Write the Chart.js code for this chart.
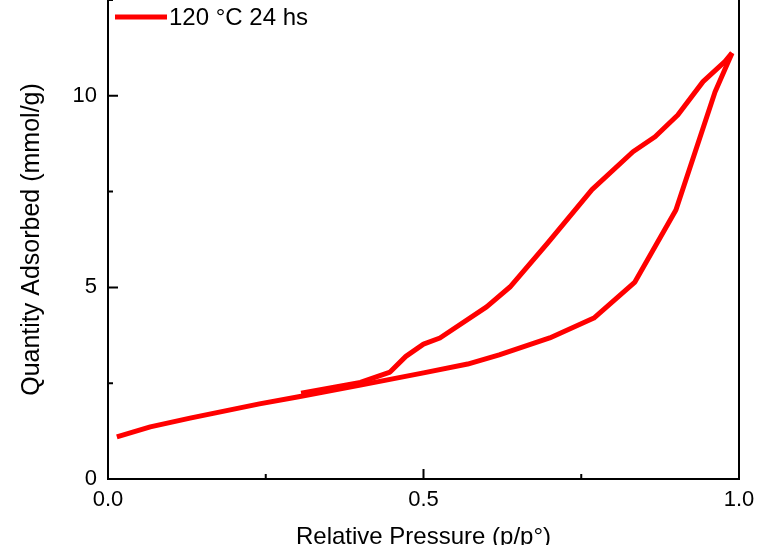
<!DOCTYPE html>
<html>
<head>
<meta charset="utf-8">
<script src="https://cdn.jsdelivr.net/npm/chart.js@4/dist/chart.umd.min.js"></script>
<style>
  html, body { margin: 0; padding: 0; background: #fff; }
  canvas { display: block; }
</style>
</head>
<body>
<canvas id="c" width="784" height="545"></canvas>
<script>
// isotherm data (p/p° vs mmol/g)
const seriesLabel = '120 °C 24 hs';
const adsP = [0.014, 0.067, 0.13, 0.24, 0.30, 0.40, 0.50, 0.57, 0.62, 0.70, 0.77, 0.835, 0.90, 0.962, 0.989];
const adsQ = [1.10, 1.36, 1.59, 1.96, 2.14, 2.45, 2.77, 3.00, 3.24, 3.68, 4.20, 5.14, 7.02, 10.1, 11.12];
const desP = [0.989, 0.978, 0.943, 0.903, 0.867, 0.832, 0.767, 0.697, 0.637, 0.60, 0.526, 0.50, 0.472, 0.447, 0.40, 0.306];
const desQ = [11.12, 10.9, 10.37, 9.5, 8.93, 8.54, 7.55, 6.16, 5.01, 4.49, 3.68, 3.52, 3.2, 2.79, 2.52, 2.24];

const xMajor = [0, 0.5, 1.0];
const xMinor = [0.25, 0.75];
const yMajor = [0, 5, 10];
const yMinor = [2.5, 7.5, 12.5];

const RED = '#ff0000';
const FONT = '"Liberation Sans", Arial, sans-serif';

const toPts = (xs, ys) => xs.map((v, i) => ({ x: v, y: ys[i] }));

// inward tick marks, right frame line, and the legend inside the plot
const frame = {
  id: 'frame',
  afterDraw(chart) {
    const { ctx, chartArea: a, scales: { x, y } } = chart;
    ctx.save();
    ctx.strokeStyle = '#000'; ctx.lineWidth = 2;
    ctx.beginPath();
    ctx.moveTo(a.right, a.top); ctx.lineTo(a.right, a.bottom + 1);
    yMajor.forEach(v => { const p = y.getPixelForValue(v); ctx.moveTo(a.left, p); ctx.lineTo(a.left + 10, p); });
    yMinor.forEach(v => { const p = y.getPixelForValue(v); ctx.moveTo(a.left, p); ctx.lineTo(a.left + 5, p); });
    xMajor.forEach(v => { const p = x.getPixelForValue(v); ctx.moveTo(p, a.bottom); ctx.lineTo(p, a.bottom - 10); });
    xMinor.forEach(v => { const p = x.getPixelForValue(v); ctx.moveTo(p, a.bottom); ctx.lineTo(p, a.bottom - 5); });
    ctx.stroke();

    // legend
    ctx.strokeStyle = RED; ctx.lineWidth = 5;
    ctx.beginPath(); ctx.moveTo(a.left + 7, 17); ctx.lineTo(a.left + 59, 17); ctx.stroke();
    ctx.fillStyle = '#000'; ctx.font = '24px ' + FONT;
    ctx.textBaseline = 'middle'; ctx.textAlign = 'left';
    ctx.fillText(seriesLabel, a.left + 61, 18);
    ctx.restore();
  }
};

const lineStyle = { borderColor: RED, backgroundColor: RED, borderWidth: 5, pointRadius: 0, tension: 0, fill: false, borderJoinStyle: 'round', borderCapStyle: 'butt' };

new Chart(document.getElementById('c'), {
  type: 'line',
  data: {
    datasets: [
      { label: seriesLabel, data: toPts(adsP, adsQ), ...lineStyle },
      { label: seriesLabel, data: toPts(desP, desQ), ...lineStyle }
    ]
  },
  options: {
    responsive: false, animation: false, devicePixelRatio: 1,
    layout: { padding: { top: 0, right: 45, left: 0, bottom: 0 } },
    plugins: { legend: { display: false }, tooltip: { enabled: false } },
    scales: {
      x: {
        type: 'linear', min: 0, max: 1.0,
        grid: { display: false, drawTicks: false },
        border: { display: true, color: '#000', width: 2 },
        afterBuildTicks: s => { s.ticks = xMajor.map(v => ({ value: v })); },
        afterFit: s => { s.height = 66; s.paddingLeft = 0; s.paddingRight = 0; },
        ticks: { color: '#000', padding: 8, maxRotation: 0, font: { family: FONT, size: 22 }, callback: v => v.toFixed(1) },
        title: { display: true, text: 'Relative Pressure (p/p°)', color: '#000', font: { family: FONT, size: 24 }, padding: { top: 0, bottom: -7 } }
      },
      y: {
        type: 'linear', min: 0, max: 12.5,
        grid: { display: false, drawTicks: false },
        border: { display: true, color: '#000', width: 2 },
        afterBuildTicks: s => { s.ticks = yMajor.map(v => ({ value: v })); },
        afterFit: s => { s.width = 108; s.paddingTop = 0; s.paddingBottom = 0; },
        ticks: { color: '#000', padding: 11, font: { family: FONT, size: 22 }, callback: v => String(v) },
        title: { display: true, text: 'Quantity Adsorbed (mmol/g)', color: '#000', font: { family: FONT, size: 25 }, padding: { top: 17, bottom: 0 } }
      }
    }
  },
  plugins: [frame]
});
</script>
</body>
</html>
